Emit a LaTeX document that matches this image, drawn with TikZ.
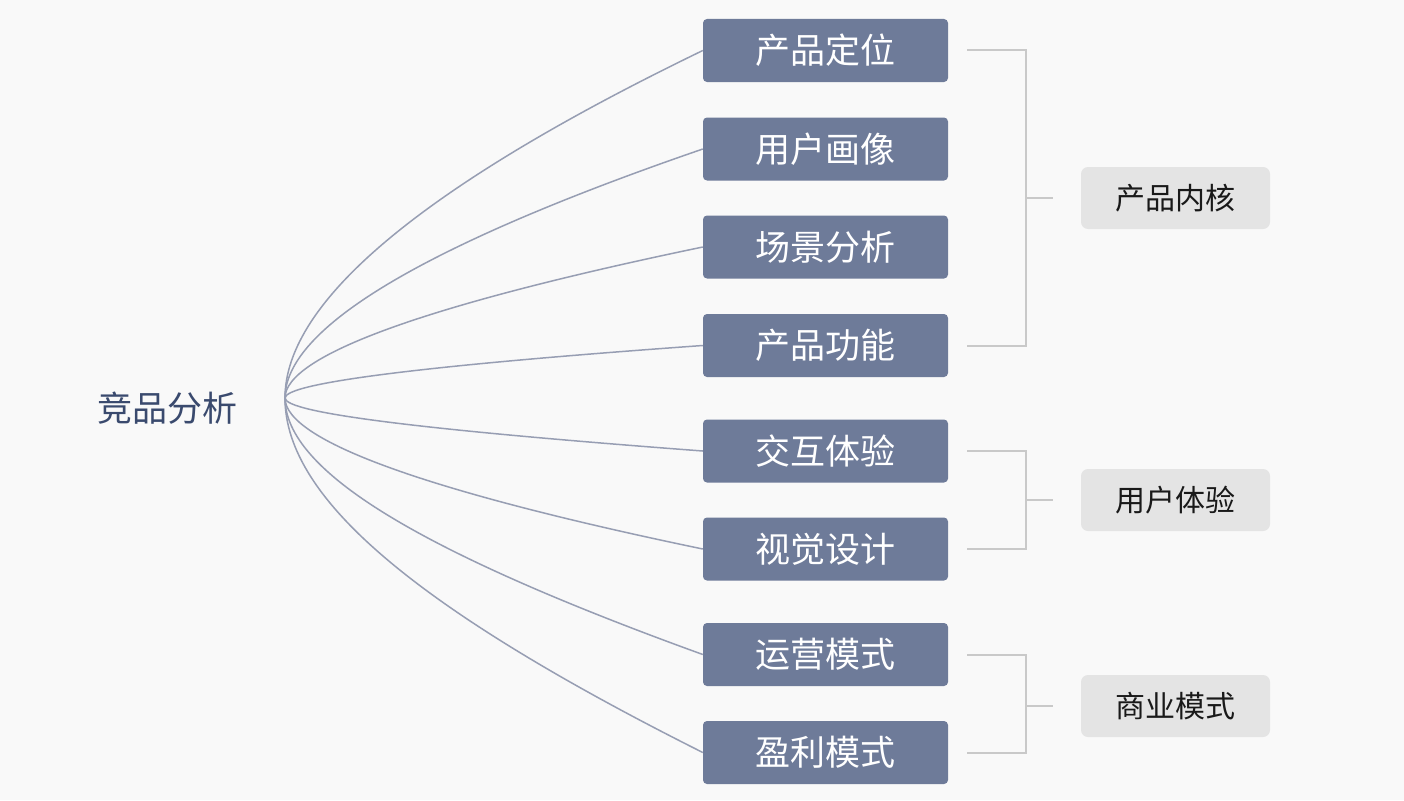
\documentclass[tikz,border=0pt]{standalone}
\usepackage{fontspec}
\newfontfamily\cjk{Noto Sans CJK SC}
\definecolor{bgc}{HTML}{F9F9F9}
\definecolor{boxc}{HTML}{6E7B99}
\definecolor{rootc}{HTML}{3A4A6E}
\definecolor{linkc}{HTML}{979EB3}
\definecolor{brkc}{HTML}{C9C9C9}
\definecolor{grpc}{HTML}{E4E4E4}
\tikzset{
	item/.style={fill=boxc, rounded corners=4pt, minimum width=245pt, minimum height=63pt, inner sep=0pt, text=white, font=\cjk\fontsize{35}{40}\selectfont},
	group/.style={fill=grpc, rounded corners=7pt, minimum width=189pt, minimum height=62pt, inner sep=0pt, text=black!90, font=\cjk\fontsize{30}{36}\selectfont},
	link/.style={draw=linkc, line width=1.5pt},
	bracket/.style={draw=brkc, line width=2pt}
}
\begin{document}
\begin{tikzpicture}[x=1pt,y=-1pt]
				\fill[bgc] (0,0) rectangle (1404,800);
				\useasboundingbox (0,0) rectangle (1404,800);
				
				\node[text=rootc, font=\cjk\fontsize{35}{40}\selectfont] (root) at (167.5,408) {竞品分析};
				\coordinate (hub) at (285,398);
				
				\node[item] (b1) at (825.5,50.5) {产品定位};
				\node[item] (b2) at (825.5,149) {用户画像};
				\node[item] (b3) at (825.5,247) {场景分析};
				\node[item] (b4) at (825.5,345.5) {产品功能};
				
				\node[item] (b5) at (825.5,451) {交互体验};
				\node[item] (b6) at (825.5,549) {视觉设计};
				
				\node[item] (b7) at (825.5,654.5) {运营模式};
				\node[item] (b8) at (825.5,752.5) {盈利模式};
				
				\node[group] (g1) at (1175.5,198) {产品内核};
				\node[group] (g2) at (1175.5,500) {用户体验};
				\node[group] (g3) at (1175.5,706) {商业模式};
				
				\draw[link] (hub) .. controls +(0,-97) and +(-279,135) .. (b1.west);
				\draw[link] (hub) .. controls +(0,-70) and +(-279,96) .. (b2.west);
				\draw[link] (hub) .. controls +(0,-42) and +(-279,58) .. (b3.west);
				\draw[link] (hub) .. controls +(0,-15) and +(-279,20) .. (b4.west);
				\draw[link] (hub) .. controls +(0,15) and +(-279,-21) .. (b5.west);
				\draw[link] (hub) .. controls +(0,42) and +(-279,-58) .. (b6.west);
				\draw[link] (hub) .. controls +(0,74) and +(-279,-101) .. (b7.west);
				\draw[link] (hub) .. controls +(0,103) and +(-279,-140) .. (b8.west);
				
				\coordinate (k1) at (1026,198);
				\coordinate (k2) at (1026,500);
				\coordinate (k3) at (1026,706);
				
				\draw[bracket] ([xshift=19pt]b1.east) -| (k1) |- ([xshift=19pt]b4.east);
				\draw[bracket] ([xshift=19pt]b5.east) -| (k2) |- ([xshift=19pt]b6.east);
				\draw[bracket] ([xshift=19pt]b7.east) -| (k3) |- ([xshift=19pt]b8.east);
				\draw[bracket] (k1) -- ([xshift=-28pt]g1.west);
				\draw[bracket] (k2) -- ([xshift=-28pt]g2.west);
				\draw[bracket] (k3) -- ([xshift=-28pt]g3.west);
			\end{tikzpicture}
\end{document}
